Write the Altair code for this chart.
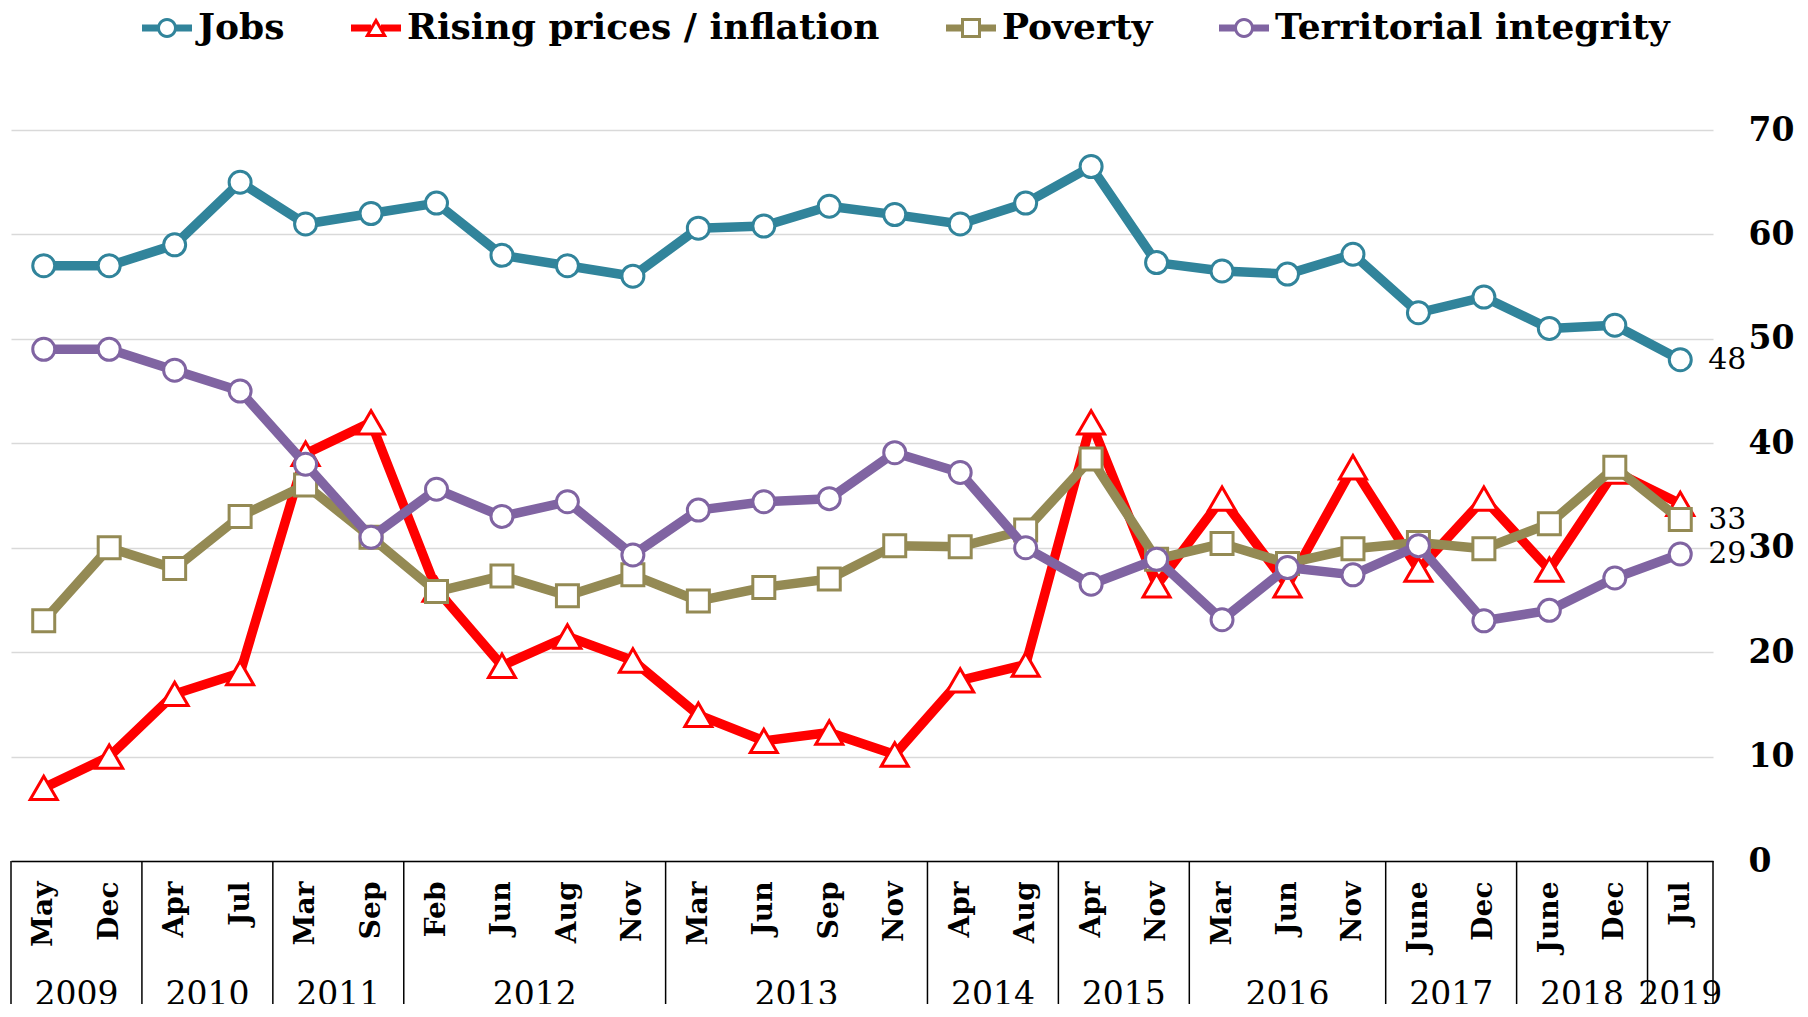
import json
import math
import altair as alt
import pandas as pd

# ---------------- data ----------------
months = ["May", "Dec", "Apr", "Jul", "Mar", "Sep", "Feb", "Jun", "Aug", "Nov",
          "Mar", "Jun", "Sep", "Nov", "Apr", "Aug", "Apr", "Nov", "Mar", "Jun",
          "Nov", "June", "Dec", "June", "Dec", "Jul"]
years = [2009, 2009, 2010, 2010, 2011, 2011, 2012, 2012, 2012, 2012,
         2013, 2013, 2013, 2013, 2014, 2014, 2015, 2015, 2016, 2016,
         2016, 2017, 2017, 2018, 2018, 2019]

jobs = [57, 57, 59, 65, 61, 62, 63, 58, 57, 56, 60.6, 60.8, 62.7, 61.9, 61,
        63, 66.5, 57.3, 56.5, 56.2, 58.1, 52.5, 54, 51, 51.3, 48]
inflation = [7, 10, 16, 18, 39, 42, 26, 18.7, 21.5, 19.2, 14, 11.5, 12.3, 10.2,
             17.3, 18.8, 42, 26.4, 34.7, 26.4, 37.7, 27.9, 34.7, 27.9, 37.3, 34.2]
poverty = [23, 30, 28, 33, 36, 31, 25.8, 27.3, 25.4, 27.4, 24.9, 26.2, 27, 30.2,
           30.1, 31.7, 38.5, 28.9, 30.4, 28.5, 29.9, 30.5, 29.9, 32.3, 37.7, 32.7]
territorial = [49, 49, 47, 45, 38, 31, 35.6, 33, 34.4, 29.3, 33.6, 34.4, 34.7,
               39.1, 37.2, 30, 26.5, 28.9, 23.1, 28.1, 27.4, 30.2, 23, 24, 27.1, 29.4]

series_names = ["Jobs", "Rising prices / inflation", "Poverty", "Territorial integrity"]
series_values = [jobs, inflation, poverty, territorial]
series_colors = ["#31849B", "#FF0000", "#948A54", "#8064A2"]
marker_shapes = ["circle", "triangle-up", "square", "circle"]
marker_sizes = [484, 729, 484, 484]
end_labelled = ["Jobs", "Poverty", "Territorial integrity"]

# ---------------- tables ----------------
n = len(months)
rows = []
for name, vals in zip(series_names, series_values):
    for i, v in enumerate(vals):
        rows.append({"idx": i, "series": name, "value": v})
df = pd.DataFrame(rows)

bounds = [-0.5]
centres = []
start = 0
for i in range(1, n + 1):
    if i == n or years[i] != years[start]:
        bounds.append(i - 0.5)
        centres.append({"idx": (start + i - 1) / 2, "label": str(years[start])})
        start = i
df_bounds = pd.DataFrame({"idx": bounds})
df_years = pd.DataFrame(centres)

df_end = pd.DataFrame([
    {"idx": n - 1, "value": vals[-1], "label": str(int(round(vals[-1])))}
    for name, vals in zip(series_names, series_values) if name in end_labelled
])

# ---------------- legend symbols (line + hollow marker), polygons only ----------------
def f(v):
    return f"{v:.4f}"

def poly(pts):
    return "M" + " L".join(f"{f(x)},{f(y)}" for x, y in pts) + " Z"

def seg(e):
    t = 0.14
    return (poly([(-1, -t), (-e, -t), (-e, t), (-1, t)]) + " " +
            poly([(e, -t), (1, -t), (1, t), (e, t)]))

def ring(r_out, r_in, k=28):
    outer = [(r_out * math.cos(2 * math.pi * j / k), r_out * math.sin(2 * math.pi * j / k)) for j in range(k)]
    inner = [(r_in * math.cos(-2 * math.pi * j / k), r_in * math.sin(-2 * math.pi * j / k)) for j in range(k)]
    return poly(outer) + " " + poly(inner)

circle_path = seg(0.3) + " " + ring(0.4, 0.28)
triangle_path = (seg(0.2) + " " + poly([(0, -0.42), (0.45, 0.36), (-0.45, 0.36)]) + " " +
                 poly([(0, -0.18), (-0.2425, 0.24), (0.2425, 0.24)]))
square_path = (seg(0.35) + " " + poly([(-0.4, -0.4), (0.4, -0.4), (0.4, 0.4), (-0.4, 0.4)]) + " " +
               poly([(-0.28, -0.28), (-0.28, 0.28), (0.28, 0.28), (0.28, -0.28)]))
legend_paths = [circle_path, triangle_path, square_path, circle_path]

# ---------------- layout ----------------
W, H = 1702, 731
FONT = "DejaVu Serif"

x_enc = alt.X(
    "idx:Q",
    scale=alt.Scale(domain=[-0.5, n - 0.5], nice=False, zero=False),
    axis=alt.Axis(
        values=list(range(n)),
        labelExpr=json.dumps(months) + "[datum.value]",
        labelAngle=270, labelFont=FONT, labelFontWeight="bold", labelFontSize=28,
        labelColor="black", labelPadding=20, ticks=False, domain=True,
        domainColor="black", domainWidth=1.5, grid=False, title=None,
        labelOverlap=False, labelFlush=False, labelBound=False,
    ),
)
y_enc = alt.Y(
    "value:Q",
    scale=alt.Scale(domain=[0, 70], nice=False),
    axis=alt.Axis(
        orient="right", values=list(range(0, 71, 10)), labelFont=FONT,
        labelFontWeight="bold", labelFontSize=33, labelColor="black",
        labelPadding=35, ticks=False, domain=False, grid=True,
        gridColor="#D9D9D9", gridWidth=1.5, title=None,
    ),
)
color_scale = alt.Scale(domain=series_names, range=series_colors)

base = alt.Chart(df)
layers = []

# legend carrier first (its legend definition wins the merge); marks sit off-canvas
leg = alt.Legend(orient="none", legendX=131, legendY=-127, direction="horizontal",
                 columns=4, title=None)
layers.append(
    base.mark_point(filled=True, size=2500, opacity=1).encode(
        x=alt.value(-5000), y=alt.value(-5000),
        color=alt.Color("series:N", scale=color_scale, legend=leg),
        shape=alt.Shape("series:N", scale=alt.Scale(domain=series_names, range=legend_paths),
                        legend=leg),
    )
)

# table: year separators and year labels
layers.append(
    alt.Chart(df_bounds).mark_rule(color="black", strokeWidth=1.5).encode(
        x=x_enc, y=alt.value(H), y2=alt.value(H + 400)
    )
)
layers.append(
    alt.Chart(df_years).mark_text(font=FONT, fontSize=33, color="black",
                                  baseline="middle", align="center").encode(
        x=x_enc, y=alt.value(H + 134), text="label:N"
    )
)

# series: line then markers, in series order
for name, shape, size in zip(series_names, marker_shapes, marker_sizes):
    sub = base.transform_filter(alt.datum.series == name)
    layers.append(
        sub.mark_line(strokeWidth=9.5, strokeJoin="round").encode(
            x=x_enc, y=y_enc,
            color=alt.Color("series:N", scale=color_scale, legend=None),
        )
    )
    layers.append(
        sub.mark_point(shape=shape, size=size, filled=True, fill="white",
                       strokeWidth=3, opacity=1).encode(
            x=x_enc, y=y_enc,
            stroke=alt.Stroke("series:N", scale=color_scale, legend=None),
        )
    )

# end-of-series value labels
layers.append(
    alt.Chart(df_end).mark_text(font=FONT, fontSize=30, color="black",
                                align="left", baseline="middle", dx=28).encode(
        x=x_enc, y=y_enc, text="label:N"
    )
)

chart = alt.layer(*layers).properties(
    width=W, height=H,
    autosize=alt.AutoSizeParams(type="none"),
    padding={"left": 3, "top": 122, "right": 86, "bottom": 143},
    background="white",
).configure_view(stroke=None).configure_legend(
    labelFont=FONT, labelFontWeight="bold", labelFontSize=36, labelColor="black",
    labelLimit=700, labelOffset=6, columnPadding=66, symbolSize=2500,
    symbolStrokeWidth=0, symbolOpacity=1, padding=0,
)

chart.save("out.html", embed_options={"renderer": "svg", "actions": False})
